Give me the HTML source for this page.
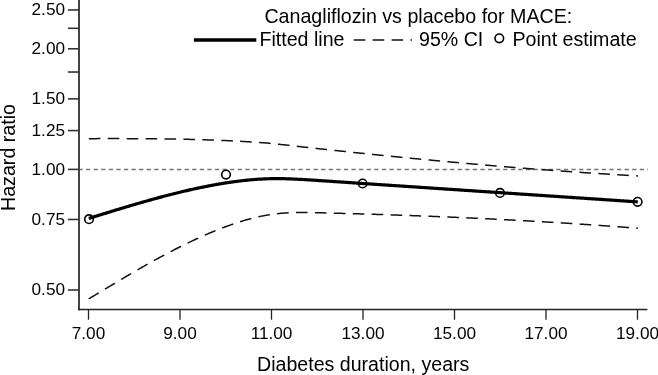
<!DOCTYPE html>
<html><head><meta charset="utf-8"><style>
html,body{margin:0;padding:0;background:#fff;}
body{width:658px;height:375px;overflow:hidden;}
svg{display:block;font-family:"Liberation Sans", sans-serif;will-change:transform;}
</style></head><body>
<svg width="658" height="375" viewBox="0 0 658 375">
<rect width="658" height="375" fill="#fff"/>
<line x1="79" y1="-2" x2="79" y2="310.2" stroke="#444" stroke-width="2"/>
<line x1="78" y1="309.5" x2="647.4" y2="309.5" stroke="#222" stroke-width="1.5"/>
<line x1="80" y1="169.5" x2="648" y2="169.5" stroke="#7a7373" stroke-width="1.3" stroke-dasharray="4.3 3.285" stroke-dashoffset="1.6"/>
<line x1="67.9" y1="9.97" x2="79" y2="9.97" stroke="#333" stroke-width="1.6"/>
<text x="65" y="15.17" text-anchor="end" font-size="17.2">2.50</text>
<line x1="67.9" y1="28.30" x2="79" y2="28.30" stroke="#333" stroke-width="1.6"/>
<line x1="67.9" y1="48.79" x2="79" y2="48.79" stroke="#333" stroke-width="1.6"/>
<text x="65" y="53.99" text-anchor="end" font-size="17.2">2.00</text>
<line x1="67.9" y1="72.03" x2="79" y2="72.03" stroke="#333" stroke-width="1.6"/>
<line x1="67.9" y1="98.85" x2="79" y2="98.85" stroke="#333" stroke-width="1.6"/>
<text x="65" y="104.05" text-anchor="end" font-size="17.2">1.50</text>
<line x1="67.9" y1="130.57" x2="79" y2="130.57" stroke="#333" stroke-width="1.6"/>
<text x="65" y="135.77" text-anchor="end" font-size="17.2">1.25</text>
<line x1="67.9" y1="169.40" x2="79" y2="169.40" stroke="#333" stroke-width="1.6"/>
<text x="65" y="174.60" text-anchor="end" font-size="17.2">1.00</text>
<line x1="67.9" y1="219.46" x2="79" y2="219.46" stroke="#333" stroke-width="1.6"/>
<text x="65" y="224.66" text-anchor="end" font-size="17.2">0.75</text>
<line x1="67.9" y1="290.01" x2="79" y2="290.01" stroke="#333" stroke-width="1.6"/>
<text x="65" y="295.21" text-anchor="end" font-size="17.2">0.50</text>
<line x1="88.50" y1="309.4" x2="88.50" y2="319.7" stroke="#222" stroke-width="1.3"/>
<text x="88.50" y="338.5" text-anchor="middle" font-size="17.2">7.00</text>
<line x1="180.00" y1="309.4" x2="180.00" y2="319.7" stroke="#222" stroke-width="1.3"/>
<text x="180.00" y="338.5" text-anchor="middle" font-size="17.2">9.00</text>
<line x1="271.50" y1="309.4" x2="271.50" y2="319.7" stroke="#222" stroke-width="1.3"/>
<text x="271.50" y="338.5" text-anchor="middle" font-size="17.2">11.00</text>
<line x1="363.00" y1="309.4" x2="363.00" y2="319.7" stroke="#222" stroke-width="1.3"/>
<text x="363.00" y="338.5" text-anchor="middle" font-size="17.2">13.00</text>
<line x1="454.50" y1="309.4" x2="454.50" y2="319.7" stroke="#222" stroke-width="1.3"/>
<text x="454.50" y="338.5" text-anchor="middle" font-size="17.2">15.00</text>
<line x1="546.00" y1="309.4" x2="546.00" y2="319.7" stroke="#222" stroke-width="1.3"/>
<text x="546.00" y="338.5" text-anchor="middle" font-size="17.2">17.00</text>
<line x1="637.50" y1="309.4" x2="637.50" y2="319.7" stroke="#222" stroke-width="1.3"/>
<text x="637.50" y="338.5" text-anchor="middle" font-size="17.2">19.00</text>
<path d="M88.40,138.67 L89.40,138.66 L90.40,138.65 L91.40,138.65 L92.40,138.64 L93.40,138.64 L94.40,138.63 L95.40,138.63 L96.40,138.63 L97.40,138.62 L98.40,138.62 L99.40,138.62 L100.40,138.61 L101.40,138.61 L102.40,138.61 L103.40,138.61 L104.40,138.60 L105.40,138.60 L106.40,138.60 L107.40,138.60 L108.40,138.60 L109.40,138.60 L110.40,138.60 L111.40,138.60 L112.40,138.60 L113.40,138.60 L114.40,138.60 L115.40,138.60 L116.40,138.60 L117.40,138.60 L118.40,138.60 L119.40,138.61 L120.40,138.61 L121.40,138.61 L122.40,138.61 L123.40,138.61 L124.40,138.62 L125.40,138.62 L126.40,138.62 L127.40,138.63 L128.40,138.63 L129.40,138.63 L130.40,138.64 L131.40,138.64 L132.40,138.65 L133.40,138.65 L134.40,138.65 L135.40,138.66 L136.40,138.66 L137.40,138.67 L138.40,138.68 L139.40,138.68 L140.40,138.69 L141.40,138.69 L142.40,138.70 L143.40,138.71 L144.40,138.71 L145.40,138.72 L146.40,138.73 L147.40,138.74 L148.40,138.75 L149.40,138.75 L150.40,138.76 L151.40,138.77 L152.40,138.78 L153.40,138.79 L154.40,138.80 L155.40,138.81 L156.40,138.82 L157.40,138.83 L158.40,138.84 L159.40,138.85 L160.40,138.86 L161.40,138.88 L162.40,138.89 L163.40,138.90 L164.40,138.91 L165.40,138.93 L166.40,138.94 L167.40,138.95 L168.40,138.97 L169.40,138.98 L170.40,139.00 L171.40,139.01 L172.40,139.03 L173.40,139.04 L174.40,139.06 L175.40,139.08 L176.40,139.09 L177.40,139.11 L178.40,139.13 L179.40,139.15 L180.40,139.17 L181.40,139.19 L182.40,139.21 L183.40,139.23 L184.40,139.25 L185.40,139.27 L186.40,139.29 L187.40,139.31 L188.40,139.34 L189.40,139.36 L190.40,139.39 L191.40,139.41 L192.40,139.43 L193.40,139.46 L194.40,139.49 L195.40,139.51 L196.40,139.54 L197.40,139.57 L198.40,139.60 L199.40,139.62 L200.40,139.65 L201.40,139.68 L202.40,139.71 L203.40,139.75 L204.40,139.78 L205.40,139.81 L206.40,139.84 L207.40,139.88 L208.40,139.91 L209.40,139.94 L210.40,139.98 L211.40,140.02 L212.40,140.05 L213.40,140.09 L214.40,140.13 L215.40,140.16 L216.40,140.20 L217.40,140.24 L218.40,140.28 L219.40,140.32 L220.40,140.36 L221.40,140.40 L222.40,140.44 L223.40,140.49 L224.40,140.53 L225.40,140.57 L226.40,140.61 L227.40,140.66 L228.40,140.70 L229.40,140.75 L230.40,140.79 L231.40,140.84 L232.40,140.89 L233.40,140.94 L234.40,140.99 L235.40,141.04 L236.40,141.09 L237.40,141.14 L238.40,141.20 L239.40,141.25 L240.40,141.31 L241.40,141.36 L242.40,141.42 L243.40,141.48 L244.40,141.54 L245.40,141.59 L246.40,141.65 L247.40,141.71 L248.40,141.77 L249.40,141.83 L250.40,141.89 L251.40,141.96 L252.40,142.02 L253.40,142.08 L254.40,142.15 L255.40,142.21 L256.40,142.28 L257.40,142.35 L258.40,142.41 L259.40,142.49 L260.40,142.56 L261.40,142.63 L262.40,142.71 L263.40,142.79 L264.40,142.87 L265.40,142.95 L266.40,143.03 L267.40,143.12 L268.40,143.21 L269.40,143.30 L270.40,143.39 L271.40,143.48 L272.40,143.58 L273.40,143.68 L274.40,143.78 L275.40,143.88 L276.40,143.98 L277.40,144.09 L278.40,144.19 L279.40,144.30 L280.40,144.41 L281.40,144.52 L282.40,144.63 L283.40,144.74 L284.40,144.85 L285.40,144.96 L286.40,145.07 L287.40,145.19 L288.40,145.30 L289.40,145.41 L290.40,145.53 L291.40,145.64 L292.40,145.76 L293.40,145.87 L294.40,145.99 L295.40,146.11 L296.40,146.22 L297.40,146.34 L298.40,146.45 L299.40,146.57 L300.40,146.68 L301.40,146.79 L302.40,146.91 L303.40,147.02 L304.40,147.13 L305.40,147.25 L306.40,147.36 L307.40,147.47 L308.40,147.58 L309.40,147.69 L310.40,147.81 L311.40,147.92 L312.40,148.03 L313.40,148.14 L314.40,148.24 L315.40,148.35 L316.40,148.46 L317.40,148.57 L318.40,148.68 L319.40,148.79 L320.40,148.90 L321.40,149.01 L322.40,149.11 L323.40,149.22 L324.40,149.33 L325.40,149.44 L326.40,149.55 L327.40,149.65 L328.40,149.76 L329.40,149.87 L330.40,149.98 L331.40,150.08 L332.40,150.19 L333.40,150.30 L334.40,150.40 L335.40,150.51 L336.40,150.62 L337.40,150.72 L338.40,150.83 L339.40,150.94 L340.40,151.04 L341.40,151.15 L342.40,151.26 L343.40,151.36 L344.40,151.47 L345.40,151.57 L346.40,151.68 L347.40,151.79 L348.40,151.89 L349.40,152.00 L350.40,152.10 L351.40,152.21 L352.40,152.31 L353.40,152.42 L354.40,152.52 L355.40,152.63 L356.40,152.73 L357.40,152.83 L358.40,152.94 L359.40,153.04 L360.40,153.15 L361.40,153.25 L362.40,153.35 L363.40,153.46 L364.40,153.56 L365.40,153.67 L366.40,153.77 L367.40,153.87 L368.40,153.97 L369.40,154.08 L370.40,154.18 L371.40,154.28 L372.40,154.39 L373.40,154.49 L374.40,154.59 L375.40,154.69 L376.40,154.79 L377.40,154.90 L378.40,155.00 L379.40,155.10 L380.40,155.20 L381.40,155.30 L382.40,155.40 L383.40,155.51 L384.40,155.61 L385.40,155.71 L386.40,155.81 L387.40,155.91 L388.40,156.01 L389.40,156.11 L390.40,156.21 L391.40,156.31 L392.40,156.41 L393.40,156.51 L394.40,156.61 L395.40,156.71 L396.40,156.81 L397.40,156.91 L398.40,157.01 L399.40,157.11 L400.40,157.21 L401.40,157.30 L402.40,157.40 L403.40,157.50 L404.40,157.60 L405.40,157.70 L406.40,157.80 L407.40,157.89 L408.40,157.99 L409.40,158.09 L410.40,158.19 L411.40,158.28 L412.40,158.38 L413.40,158.48 L414.40,158.57 L415.40,158.67 L416.40,158.77 L417.40,158.86 L418.40,158.96 L419.40,159.06 L420.40,159.15 L421.40,159.25 L422.40,159.35 L423.40,159.44 L424.40,159.54 L425.40,159.63 L426.40,159.73 L427.40,159.82 L428.40,159.92 L429.40,160.01 L430.40,160.11 L431.40,160.20 L432.40,160.29 L433.40,160.39 L434.40,160.48 L435.40,160.58 L436.40,160.67 L437.40,160.76 L438.40,160.86 L439.40,160.95 L440.40,161.04 L441.40,161.14 L442.40,161.23 L443.40,161.32 L444.40,161.41 L445.40,161.51 L446.40,161.60 L447.40,161.69 L448.40,161.78 L449.40,161.87 L450.40,161.96 L451.40,162.06 L452.40,162.15 L453.40,162.24 L454.40,162.33 L455.40,162.42 L456.40,162.51 L457.40,162.60 L458.40,162.69 L459.40,162.78 L460.40,162.87 L461.40,162.96 L462.40,163.05 L463.40,163.14 L464.40,163.23 L465.40,163.32 L466.40,163.41 L467.40,163.49 L468.40,163.58 L469.40,163.67 L470.40,163.76 L471.40,163.85 L472.40,163.94 L473.40,164.02 L474.40,164.11 L475.40,164.20 L476.40,164.29 L477.40,164.37 L478.40,164.46 L479.40,164.55 L480.40,164.63 L481.40,164.72 L482.40,164.80 L483.40,164.89 L484.40,164.98 L485.40,165.06 L486.40,165.15 L487.40,165.23 L488.40,165.32 L489.40,165.40 L490.40,165.49 L491.40,165.57 L492.40,165.66 L493.40,165.74 L494.40,165.83 L495.40,165.91 L496.40,165.99 L497.40,166.08 L498.40,166.16 L499.40,166.24 L500.40,166.33 L501.40,166.41 L502.40,166.49 L503.40,166.57 L504.40,166.66 L505.40,166.74 L506.40,166.82 L507.40,166.90 L508.40,166.98 L509.40,167.06 L510.40,167.15 L511.40,167.23 L512.40,167.31 L513.40,167.39 L514.40,167.47 L515.40,167.55 L516.40,167.63 L517.40,167.71 L518.40,167.79 L519.40,167.87 L520.40,167.95 L521.40,168.03 L522.40,168.11 L523.40,168.18 L524.40,168.26 L525.40,168.34 L526.40,168.42 L527.40,168.50 L528.40,168.58 L529.40,168.65 L530.40,168.73 L531.40,168.81 L532.40,168.89 L533.40,168.96 L534.40,169.04 L535.40,169.12 L536.40,169.19 L537.40,169.27 L538.40,169.34 L539.40,169.42 L540.40,169.50 L541.40,169.57 L542.40,169.65 L543.40,169.72 L544.40,169.80 L545.40,169.87 L546.40,169.94 L547.40,170.02 L548.40,170.09 L549.40,170.17 L550.40,170.24 L551.40,170.31 L552.40,170.39 L553.40,170.46 L554.40,170.53 L555.40,170.61 L556.40,170.68 L557.40,170.75 L558.40,170.82 L559.40,170.90 L560.40,170.97 L561.40,171.04 L562.40,171.11 L563.40,171.18 L564.40,171.25 L565.40,171.32 L566.40,171.39 L567.40,171.46 L568.40,171.53 L569.40,171.60 L570.40,171.67 L571.40,171.74 L572.40,171.81 L573.40,171.88 L574.40,171.95 L575.40,172.02 L576.40,172.09 L577.40,172.16 L578.40,172.23 L579.40,172.29 L580.40,172.36 L581.40,172.43 L582.40,172.50 L583.40,172.57 L584.40,172.63 L585.40,172.70 L586.40,172.77 L587.40,172.83 L588.40,172.90 L589.40,172.97 L590.40,173.03 L591.40,173.10 L592.40,173.16 L593.40,173.23 L594.40,173.29 L595.40,173.36 L596.40,173.42 L597.40,173.49 L598.40,173.55 L599.40,173.62 L600.40,173.68 L601.40,173.74 L602.40,173.81 L603.40,173.87 L604.40,173.94 L605.40,174.00 L606.40,174.06 L607.40,174.12 L608.40,174.19 L609.40,174.25 L610.40,174.31 L611.40,174.37 L612.40,174.43 L613.40,174.50 L614.40,174.56 L615.40,174.62 L616.40,174.68 L617.40,174.74 L618.40,174.80 L619.40,174.86 L620.40,174.92 L621.40,174.98 L622.40,175.04 L623.40,175.10 L624.40,175.16 L625.40,175.22 L626.40,175.28 L627.40,175.34 L628.40,175.40 L629.40,175.46 L630.40,175.51 L631.40,175.57 L632.40,175.63 L633.40,175.69 L634.40,175.75 L635.40,175.80 L636.40,175.86 L637.40,175.92 L638.00,175.95" fill="none" stroke="#111" stroke-width="1.5" stroke-dasharray="11.6 7.33" stroke-dashoffset="-0.4"/>
<path d="M88.70,298.89 L89.70,298.29 L90.70,297.69 L91.70,297.09 L92.70,296.49 L93.70,295.89 L94.70,295.29 L95.70,294.69 L96.70,294.09 L97.70,293.49 L98.70,292.89 L99.70,292.28 L100.70,291.68 L101.70,291.08 L102.70,290.48 L103.70,289.88 L104.70,289.28 L105.70,288.68 L106.70,288.08 L107.70,287.48 L108.70,286.88 L109.70,286.28 L110.70,285.68 L111.70,285.08 L112.70,284.49 L113.70,283.89 L114.70,283.29 L115.70,282.70 L116.70,282.10 L117.70,281.50 L118.70,280.91 L119.70,280.32 L120.70,279.72 L121.70,279.13 L122.70,278.54 L123.70,277.95 L124.70,277.36 L125.70,276.77 L126.70,276.18 L127.70,275.59 L128.70,275.01 L129.70,274.42 L130.70,273.84 L131.70,273.26 L132.70,272.67 L133.70,272.09 L134.70,271.51 L135.70,270.93 L136.70,270.36 L137.70,269.78 L138.70,269.20 L139.70,268.63 L140.70,268.06 L141.70,267.49 L142.70,266.92 L143.70,266.35 L144.70,265.78 L145.70,265.21 L146.70,264.65 L147.70,264.09 L148.70,263.53 L149.70,262.97 L150.70,262.41 L151.70,261.85 L152.70,261.30 L153.70,260.74 L154.70,260.19 L155.70,259.64 L156.70,259.09 L157.70,258.54 L158.70,258.00 L159.70,257.46 L160.70,256.91 L161.70,256.37 L162.70,255.84 L163.70,255.30 L164.70,254.77 L165.70,254.23 L166.70,253.70 L167.70,253.18 L168.70,252.65 L169.70,252.12 L170.70,251.60 L171.70,251.08 L172.70,250.56 L173.70,250.05 L174.70,249.53 L175.70,249.02 L176.70,248.51 L177.70,248.00 L178.70,247.50 L179.70,247.00 L180.70,246.49 L181.70,246.00 L182.70,245.50 L183.70,245.01 L184.70,244.51 L185.70,244.02 L186.70,243.54 L187.70,243.05 L188.70,242.57 L189.70,242.09 L190.70,241.61 L191.70,241.14 L192.70,240.67 L193.70,240.20 L194.70,239.73 L195.70,239.27 L196.70,238.80 L197.70,238.35 L198.70,237.89 L199.70,237.44 L200.70,236.98 L201.70,236.54 L202.70,236.09 L203.70,235.65 L204.70,235.21 L205.70,234.77 L206.70,234.34 L207.70,233.91 L208.70,233.48 L209.70,233.05 L210.70,232.63 L211.70,232.21 L212.70,231.79 L213.70,231.38 L214.70,230.97 L215.70,230.57 L216.70,230.16 L217.70,229.76 L218.70,229.36 L219.70,228.97 L220.70,228.58 L221.70,228.19 L222.70,227.81 L223.70,227.43 L224.70,227.06 L225.70,226.68 L226.70,226.31 L227.70,225.95 L228.70,225.59 L229.70,225.23 L230.70,224.87 L231.70,224.52 L232.70,224.17 L233.70,223.83 L234.70,223.49 L235.70,223.15 L236.70,222.82 L237.70,222.49 L238.70,222.17 L239.70,221.85 L240.70,221.53 L241.70,221.22 L242.70,220.92 L243.70,220.62 L244.70,220.32 L245.70,220.03 L246.70,219.75 L247.70,219.47 L248.70,219.19 L249.70,218.93 L250.70,218.66 L251.70,218.40 L252.70,218.15 L253.70,217.91 L254.70,217.67 L255.70,217.43 L256.70,217.20 L257.70,216.98 L258.70,216.76 L259.70,216.54 L260.70,216.34 L261.70,216.13 L262.70,215.94 L263.70,215.74 L264.70,215.56 L265.70,215.37 L266.70,215.20 L267.70,215.03 L268.70,214.86 L269.70,214.70 L270.70,214.55 L271.70,214.40 L272.70,214.26 L273.70,214.13 L274.70,214.00 L275.70,213.88 L276.70,213.76 L277.70,213.65 L278.70,213.54 L279.70,213.44 L280.70,213.35 L281.70,213.26 L282.70,213.18 L283.70,213.10 L284.70,213.02 L285.70,212.96 L286.70,212.89 L287.70,212.83 L288.70,212.78 L289.70,212.73 L290.70,212.69 L291.70,212.64 L292.70,212.61 L293.70,212.58 L294.70,212.55 L295.70,212.53 L296.70,212.51 L297.70,212.49 L298.70,212.48 L299.70,212.47 L300.70,212.46 L301.70,212.46 L302.70,212.46 L303.70,212.46 L304.70,212.47 L305.70,212.48 L306.70,212.49 L307.70,212.50 L308.70,212.52 L309.70,212.53 L310.70,212.55 L311.70,212.57 L312.70,212.60 L313.70,212.62 L314.70,212.64 L315.70,212.67 L316.70,212.69 L317.70,212.72 L318.70,212.74 L319.70,212.77 L320.70,212.79 L321.70,212.82 L322.70,212.84 L323.70,212.87 L324.70,212.90 L325.70,212.92 L326.70,212.95 L327.70,212.97 L328.70,213.00 L329.70,213.03 L330.70,213.05 L331.70,213.08 L332.70,213.11 L333.70,213.13 L334.70,213.16 L335.70,213.19 L336.70,213.21 L337.70,213.24 L338.70,213.27 L339.70,213.30 L340.70,213.32 L341.70,213.35 L342.70,213.38 L343.70,213.41 L344.70,213.44 L345.70,213.46 L346.70,213.49 L347.70,213.52 L348.70,213.55 L349.70,213.58 L350.70,213.61 L351.70,213.64 L352.70,213.66 L353.70,213.69 L354.70,213.72 L355.70,213.75 L356.70,213.78 L357.70,213.81 L358.70,213.84 L359.70,213.87 L360.70,213.90 L361.70,213.93 L362.70,213.96 L363.70,213.99 L364.70,214.02 L365.70,214.05 L366.70,214.08 L367.70,214.11 L368.70,214.14 L369.70,214.17 L370.70,214.21 L371.70,214.24 L372.70,214.27 L373.70,214.30 L374.70,214.33 L375.70,214.36 L376.70,214.39 L377.70,214.43 L378.70,214.46 L379.70,214.49 L380.70,214.52 L381.70,214.56 L382.70,214.59 L383.70,214.62 L384.70,214.65 L385.70,214.69 L386.70,214.72 L387.70,214.75 L388.70,214.79 L389.70,214.82 L390.70,214.85 L391.70,214.89 L392.70,214.92 L393.70,214.96 L394.70,214.99 L395.70,215.02 L396.70,215.06 L397.70,215.09 L398.70,215.13 L399.70,215.16 L400.70,215.20 L401.70,215.23 L402.70,215.27 L403.70,215.30 L404.70,215.34 L405.70,215.38 L406.70,215.41 L407.70,215.45 L408.70,215.48 L409.70,215.52 L410.70,215.56 L411.70,215.59 L412.70,215.63 L413.70,215.67 L414.70,215.70 L415.70,215.74 L416.70,215.78 L417.70,215.81 L418.70,215.85 L419.70,215.89 L420.70,215.93 L421.70,215.97 L422.70,216.00 L423.70,216.04 L424.70,216.08 L425.70,216.12 L426.70,216.16 L427.70,216.20 L428.70,216.24 L429.70,216.28 L430.70,216.31 L431.70,216.35 L432.70,216.39 L433.70,216.43 L434.70,216.47 L435.70,216.51 L436.70,216.55 L437.70,216.59 L438.70,216.63 L439.70,216.68 L440.70,216.72 L441.70,216.76 L442.70,216.80 L443.70,216.84 L444.70,216.88 L445.70,216.92 L446.70,216.96 L447.70,217.01 L448.70,217.05 L449.70,217.09 L450.70,217.13 L451.70,217.18 L452.70,217.22 L453.70,217.26 L454.70,217.31 L455.70,217.35 L456.70,217.39 L457.70,217.44 L458.70,217.48 L459.70,217.52 L460.70,217.57 L461.70,217.61 L462.70,217.66 L463.70,217.70 L464.70,217.75 L465.70,217.79 L466.70,217.84 L467.70,217.88 L468.70,217.93 L469.70,217.97 L470.70,218.02 L471.70,218.06 L472.70,218.11 L473.70,218.16 L474.70,218.20 L475.70,218.25 L476.70,218.29 L477.70,218.34 L478.70,218.39 L479.70,218.44 L480.70,218.48 L481.70,218.53 L482.70,218.58 L483.70,218.63 L484.70,218.67 L485.70,218.72 L486.70,218.77 L487.70,218.82 L488.70,218.87 L489.70,218.92 L490.70,218.97 L491.70,219.02 L492.70,219.07 L493.70,219.12 L494.70,219.17 L495.70,219.22 L496.70,219.27 L497.70,219.32 L498.70,219.37 L499.70,219.42 L500.70,219.47 L501.70,219.52 L502.70,219.57 L503.70,219.62 L504.70,219.67 L505.70,219.73 L506.70,219.78 L507.70,219.83 L508.70,219.88 L509.70,219.94 L510.70,219.99 L511.70,220.04 L512.70,220.09 L513.70,220.15 L514.70,220.20 L515.70,220.25 L516.70,220.31 L517.70,220.36 L518.70,220.42 L519.70,220.47 L520.70,220.53 L521.70,220.58 L522.70,220.64 L523.70,220.69 L524.70,220.75 L525.70,220.80 L526.70,220.86 L527.70,220.91 L528.70,220.97 L529.70,221.03 L530.70,221.08 L531.70,221.14 L532.70,221.19 L533.70,221.25 L534.70,221.31 L535.70,221.37 L536.70,221.42 L537.70,221.48 L538.70,221.54 L539.70,221.60 L540.70,221.66 L541.70,221.71 L542.70,221.77 L543.70,221.83 L544.70,221.89 L545.70,221.95 L546.70,222.01 L547.70,222.07 L548.70,222.13 L549.70,222.19 L550.70,222.25 L551.70,222.31 L552.70,222.37 L553.70,222.43 L554.70,222.49 L555.70,222.55 L556.70,222.61 L557.70,222.68 L558.70,222.74 L559.70,222.80 L560.70,222.86 L561.70,222.92 L562.70,222.99 L563.70,223.05 L564.70,223.11 L565.70,223.18 L566.70,223.24 L567.70,223.30 L568.70,223.37 L569.70,223.43 L570.70,223.49 L571.70,223.56 L572.70,223.62 L573.70,223.69 L574.70,223.75 L575.70,223.82 L576.70,223.88 L577.70,223.95 L578.70,224.01 L579.70,224.08 L580.70,224.15 L581.70,224.21 L582.70,224.28 L583.70,224.34 L584.70,224.41 L585.70,224.48 L586.70,224.55 L587.70,224.61 L588.70,224.68 L589.70,224.75 L590.70,224.82 L591.70,224.88 L592.70,224.95 L593.70,225.02 L594.70,225.09 L595.70,225.16 L596.70,225.23 L597.70,225.30 L598.70,225.37 L599.70,225.44 L600.70,225.51 L601.70,225.58 L602.70,225.65 L603.70,225.72 L604.70,225.79 L605.70,225.86 L606.70,225.93 L607.70,226.00 L608.70,226.07 L609.70,226.14 L610.70,226.21 L611.70,226.29 L612.70,226.36 L613.70,226.43 L614.70,226.50 L615.70,226.58 L616.70,226.65 L617.70,226.72 L618.70,226.80 L619.70,226.87 L620.70,226.94 L621.70,227.02 L622.70,227.09 L623.70,227.17 L624.70,227.24 L625.70,227.31 L626.70,227.39 L627.70,227.46 L628.70,227.54 L629.70,227.61 L630.70,227.69 L631.70,227.77 L632.70,227.84 L633.70,227.92 L634.70,227.99 L635.70,228.07 L636.70,228.15 L637.70,228.22 L638.00,228.25" fill="none" stroke="#111" stroke-width="1.5" stroke-dasharray="11.6 7.33"/>
<path d="M88.80,218.41 L89.80,218.10 L90.80,217.79 L91.80,217.48 L92.80,217.17 L93.80,216.86 L94.80,216.55 L95.80,216.24 L96.80,215.93 L97.80,215.62 L98.80,215.31 L99.80,215.00 L100.80,214.70 L101.80,214.39 L102.80,214.08 L103.80,213.77 L104.80,213.46 L105.80,213.15 L106.80,212.85 L107.80,212.54 L108.80,212.23 L109.80,211.92 L110.80,211.62 L111.80,211.31 L112.80,211.01 L113.80,210.70 L114.80,210.40 L115.80,210.09 L116.80,209.79 L117.80,209.49 L118.80,209.18 L119.80,208.88 L120.80,208.58 L121.80,208.28 L122.80,207.98 L123.80,207.68 L124.80,207.38 L125.80,207.08 L126.80,206.78 L127.80,206.48 L128.80,206.18 L129.80,205.89 L130.80,205.59 L131.80,205.29 L132.80,205.00 L133.80,204.71 L134.80,204.41 L135.80,204.12 L136.80,203.83 L137.80,203.54 L138.80,203.25 L139.80,202.96 L140.80,202.67 L141.80,202.38 L142.80,202.10 L143.80,201.81 L144.80,201.53 L145.80,201.24 L146.80,200.96 L147.80,200.68 L148.80,200.40 L149.80,200.12 L150.80,199.84 L151.80,199.56 L152.80,199.28 L153.80,199.01 L154.80,198.73 L155.80,198.46 L156.80,198.18 L157.80,197.91 L158.80,197.64 L159.80,197.37 L160.80,197.11 L161.80,196.84 L162.80,196.57 L163.80,196.31 L164.80,196.04 L165.80,195.78 L166.80,195.52 L167.80,195.26 L168.80,195.00 L169.80,194.75 L170.80,194.49 L171.80,194.24 L172.80,193.98 L173.80,193.73 L174.80,193.48 L175.80,193.23 L176.80,192.99 L177.80,192.74 L178.80,192.50 L179.80,192.25 L180.80,192.01 L181.80,191.77 L182.80,191.53 L183.80,191.30 L184.80,191.06 L185.80,190.83 L186.80,190.59 L187.80,190.36 L188.80,190.13 L189.80,189.91 L190.80,189.68 L191.80,189.46 L192.80,189.24 L193.80,189.01 L194.80,188.80 L195.80,188.58 L196.80,188.36 L197.80,188.15 L198.80,187.94 L199.80,187.73 L200.80,187.52 L201.80,187.31 L202.80,187.11 L203.80,186.91 L204.80,186.70 L205.80,186.51 L206.80,186.31 L207.80,186.11 L208.80,185.92 L209.80,185.73 L210.80,185.54 L211.80,185.35 L212.80,185.17 L213.80,184.98 L214.80,184.80 L215.80,184.62 L216.80,184.45 L217.80,184.27 L218.80,184.10 L219.80,183.93 L220.80,183.76 L221.80,183.59 L222.80,183.43 L223.80,183.27 L224.80,183.11 L225.80,182.95 L226.80,182.79 L227.80,182.64 L228.80,182.49 L229.80,182.34 L230.80,182.20 L231.80,182.05 L232.80,181.91 L233.80,181.77 L234.80,181.64 L235.80,181.50 L236.80,181.37 L237.80,181.24 L238.80,181.12 L239.80,180.99 L240.80,180.87 L241.80,180.76 L242.80,180.64 L243.80,180.53 L244.80,180.42 L245.80,180.31 L246.80,180.21 L247.80,180.11 L248.80,180.01 L249.80,179.92 L250.80,179.83 L251.80,179.74 L252.80,179.65 L253.80,179.57 L254.80,179.49 L255.80,179.42 L256.80,179.34 L257.80,179.27 L258.80,179.21 L259.80,179.15 L260.80,179.09 L261.80,179.03 L262.80,178.98 L263.80,178.93 L264.80,178.88 L265.80,178.84 L266.80,178.80 L267.80,178.77 L268.80,178.74 L269.80,178.71 L270.80,178.69 L271.80,178.67 L272.80,178.65 L273.80,178.64 L274.80,178.63 L275.80,178.63 L276.80,178.62 L277.80,178.63 L278.80,178.63 L279.80,178.64 L280.80,178.65 L281.80,178.66 L282.80,178.68 L283.80,178.70 L284.80,178.72 L285.80,178.75 L286.80,178.78 L287.80,178.81 L288.80,178.84 L289.80,178.87 L290.80,178.91 L291.80,178.95 L292.80,178.99 L293.80,179.04 L294.80,179.08 L295.80,179.13 L296.80,179.18 L297.80,179.23 L298.80,179.28 L299.80,179.33 L300.80,179.39 L301.80,179.45 L302.80,179.50 L303.80,179.56 L304.80,179.62 L305.80,179.68 L306.80,179.75 L307.80,179.81 L308.80,179.87 L309.80,179.94 L310.80,180.00 L311.80,180.07 L312.80,180.13 L313.80,180.20 L314.80,180.27 L315.80,180.33 L316.80,180.40 L317.80,180.47 L318.80,180.53 L319.80,180.60 L320.80,180.67 L321.80,180.73 L322.80,180.80 L323.80,180.87 L324.80,180.94 L325.80,181.00 L326.80,181.07 L327.80,181.14 L328.80,181.20 L329.80,181.27 L330.80,181.34 L331.80,181.40 L332.80,181.47 L333.80,181.54 L334.80,181.60 L335.80,181.67 L336.80,181.74 L337.80,181.81 L338.80,181.87 L339.80,181.94 L340.80,182.01 L341.80,182.07 L342.80,182.14 L343.80,182.21 L344.80,182.27 L345.80,182.34 L346.80,182.41 L347.80,182.47 L348.80,182.54 L349.80,182.61 L350.80,182.67 L351.80,182.74 L352.80,182.81 L353.80,182.88 L354.80,182.94 L355.80,183.01 L356.80,183.08 L357.80,183.14 L358.80,183.21 L359.80,183.28 L360.80,183.34 L361.80,183.41 L362.80,183.48 L363.80,183.54 L364.80,183.61 L365.80,183.68 L366.80,183.75 L367.80,183.81 L368.80,183.88 L369.80,183.95 L370.80,184.01 L371.80,184.08 L372.80,184.15 L373.80,184.21 L374.80,184.28 L375.80,184.35 L376.80,184.41 L377.80,184.48 L378.80,184.55 L379.80,184.62 L380.80,184.68 L381.80,184.75 L382.80,184.82 L383.80,184.88 L384.80,184.95 L385.80,185.02 L386.80,185.08 L387.80,185.15 L388.80,185.22 L389.80,185.28 L390.80,185.35 L391.80,185.42 L392.80,185.48 L393.80,185.55 L394.80,185.62 L395.80,185.69 L396.80,185.75 L397.80,185.82 L398.80,185.89 L399.80,185.95 L400.80,186.02 L401.80,186.09 L402.80,186.15 L403.80,186.22 L404.80,186.29 L405.80,186.35 L406.80,186.42 L407.80,186.49 L408.80,186.56 L409.80,186.62 L410.80,186.69 L411.80,186.76 L412.80,186.82 L413.80,186.89 L414.80,186.96 L415.80,187.02 L416.80,187.09 L417.80,187.16 L418.80,187.22 L419.80,187.29 L420.80,187.36 L421.80,187.43 L422.80,187.49 L423.80,187.56 L424.80,187.63 L425.80,187.69 L426.80,187.76 L427.80,187.83 L428.80,187.89 L429.80,187.96 L430.80,188.03 L431.80,188.09 L432.80,188.16 L433.80,188.23 L434.80,188.30 L435.80,188.36 L436.80,188.43 L437.80,188.50 L438.80,188.56 L439.80,188.63 L440.80,188.70 L441.80,188.76 L442.80,188.83 L443.80,188.90 L444.80,188.96 L445.80,189.03 L446.80,189.10 L447.80,189.16 L448.80,189.23 L449.80,189.30 L450.80,189.37 L451.80,189.43 L452.80,189.50 L453.80,189.57 L454.80,189.63 L455.80,189.70 L456.80,189.77 L457.80,189.83 L458.80,189.90 L459.80,189.97 L460.80,190.03 L461.80,190.10 L462.80,190.17 L463.80,190.24 L464.80,190.30 L465.80,190.37 L466.80,190.44 L467.80,190.50 L468.80,190.57 L469.80,190.64 L470.80,190.70 L471.80,190.77 L472.80,190.84 L473.80,190.90 L474.80,190.97 L475.80,191.04 L476.80,191.11 L477.80,191.17 L478.80,191.24 L479.80,191.31 L480.80,191.37 L481.80,191.44 L482.80,191.51 L483.80,191.57 L484.80,191.64 L485.80,191.71 L486.80,191.77 L487.80,191.84 L488.80,191.91 L489.80,191.97 L490.80,192.04 L491.80,192.11 L492.80,192.18 L493.80,192.24 L494.80,192.31 L495.80,192.38 L496.80,192.44 L497.80,192.51 L498.80,192.58 L499.80,192.64 L500.80,192.71 L501.80,192.78 L502.80,192.84 L503.80,192.91 L504.80,192.98 L505.80,193.05 L506.80,193.11 L507.80,193.18 L508.80,193.25 L509.80,193.31 L510.80,193.38 L511.80,193.45 L512.80,193.51 L513.80,193.58 L514.80,193.65 L515.80,193.71 L516.80,193.78 L517.80,193.85 L518.80,193.92 L519.80,193.98 L520.80,194.05 L521.80,194.12 L522.80,194.18 L523.80,194.25 L524.80,194.32 L525.80,194.38 L526.80,194.45 L527.80,194.52 L528.80,194.58 L529.80,194.65 L530.80,194.72 L531.80,194.79 L532.80,194.85 L533.80,194.92 L534.80,194.99 L535.80,195.05 L536.80,195.12 L537.80,195.19 L538.80,195.25 L539.80,195.32 L540.80,195.39 L541.80,195.45 L542.80,195.52 L543.80,195.59 L544.80,195.65 L545.80,195.72 L546.80,195.79 L547.80,195.86 L548.80,195.92 L549.80,195.99 L550.80,196.06 L551.80,196.12 L552.80,196.19 L553.80,196.26 L554.80,196.32 L555.80,196.39 L556.80,196.46 L557.80,196.52 L558.80,196.59 L559.80,196.66 L560.80,196.73 L561.80,196.79 L562.80,196.86 L563.80,196.93 L564.80,196.99 L565.80,197.06 L566.80,197.13 L567.80,197.19 L568.80,197.26 L569.80,197.33 L570.80,197.39 L571.80,197.46 L572.80,197.53 L573.80,197.60 L574.80,197.66 L575.80,197.73 L576.80,197.80 L577.80,197.86 L578.80,197.93 L579.80,198.00 L580.80,198.06 L581.80,198.13 L582.80,198.20 L583.80,198.26 L584.80,198.33 L585.80,198.40 L586.80,198.46 L587.80,198.53 L588.80,198.60 L589.80,198.67 L590.80,198.73 L591.80,198.80 L592.80,198.87 L593.80,198.93 L594.80,199.00 L595.80,199.07 L596.80,199.13 L597.80,199.20 L598.80,199.27 L599.80,199.33 L600.80,199.40 L601.80,199.47 L602.80,199.54 L603.80,199.60 L604.80,199.67 L605.80,199.74 L606.80,199.80 L607.80,199.87 L608.80,199.94 L609.80,200.00 L610.80,200.07 L611.80,200.14 L612.80,200.20 L613.80,200.27 L614.80,200.34 L615.80,200.41 L616.80,200.47 L617.80,200.54 L618.80,200.61 L619.80,200.67 L620.80,200.74 L621.80,200.81 L622.80,200.87 L623.80,200.94 L624.80,201.01 L625.80,201.07 L626.80,201.14 L627.80,201.21 L628.80,201.28 L629.80,201.34 L630.80,201.41 L631.80,201.48 L632.80,201.54 L633.80,201.61 L634.80,201.68 L635.80,201.74 L636.80,201.81 L637.80,201.88" fill="none" stroke="#000" stroke-width="3.2" stroke-linejoin="round"/>
<circle cx="89" cy="219.2" r="4.3" fill="none" stroke="#000" stroke-width="1.6"/>
<circle cx="226" cy="174.6" r="4.3" fill="none" stroke="#000" stroke-width="1.6"/>
<circle cx="362.6" cy="183.5" r="4.3" fill="none" stroke="#000" stroke-width="1.6"/>
<circle cx="500" cy="192.9" r="4.3" fill="none" stroke="#000" stroke-width="1.6"/>
<circle cx="637.6" cy="201.8" r="4.3" fill="none" stroke="#000" stroke-width="1.6"/>
<text x="15.1" y="157.5" transform="rotate(-90 15.1 157.5)" text-anchor="middle" font-size="19.65">Hazard ratio</text>
<text x="363.2" y="370.6" text-anchor="middle" font-size="19.6">Diabetes duration, years</text>
<text x="264.4" y="22.7" font-size="19.65">Canagliflozin vs placebo for MACE:</text>
<line x1="193.9" y1="40" x2="256.3" y2="40" stroke="#000" stroke-width="3.3"/>
<text x="259.5" y="45.6" font-size="19.6">Fitted line</text>
<line x1="353.7" y1="39.9" x2="412" y2="39.9" stroke="#111" stroke-width="1.5" stroke-dasharray="11.6 7.33"/>
<text x="419" y="45.6" font-size="19.6">95% CI</text>
<circle cx="499.3" cy="38.3" r="4.3" fill="none" stroke="#000" stroke-width="1.6"/>
<text x="512.5" y="45.6" font-size="19.6">Point estimate</text>
</svg>
</body></html>
